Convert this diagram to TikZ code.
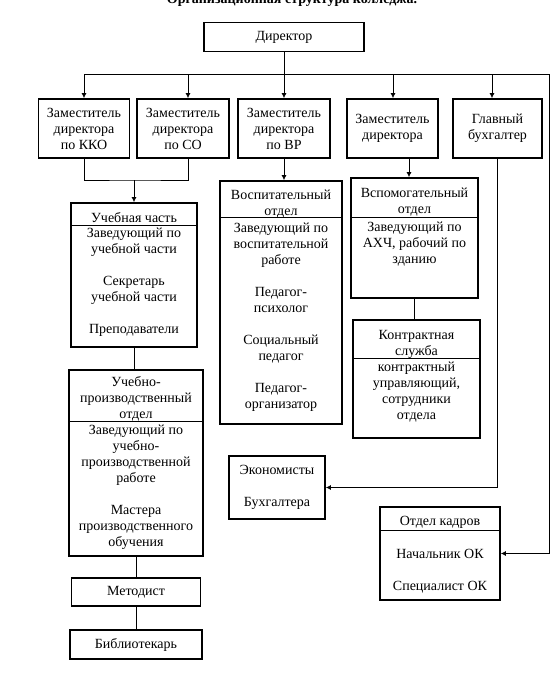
\documentclass[tikz,border=0pt]{standalone}
\usepackage{fontspec}
\setmainfont{Liberation Serif}
\usepackage{tikz}
\usetikzlibrary{positioning, arrows.meta}
\newcommand{\orgfont}{\fontsize{14}{16}\selectfont}
\tikzset{
  unit/.style={
    draw, rectangle, line width=1.7pt,
    inner sep=0pt, align=center, font=\orgfont
  },
  txt/.style={inner sep=0pt, align=center, font=\orgfont},
  ttl/.style={inner sep=0pt, font=\orgfont\bfseries},
  sepl/.style={line width=0.8pt},
  lnk/.style={line width=0.8pt},
  arr/.style={-{Latex[length=5pt, width=5pt]}, line width=0.8pt},
}
\begin{document}
\begin{tikzpicture}[x=1pt, y=-1pt]
        \useasboundingbox (0,0) rectangle (560,681);
        \node[ttl, anchor=base] (title) at (292,3) {Организационная структура колледжа.};
        \node[unit, minimum width=160pt, minimum height=29pt] (dir) at (284,37) {Директор};
        % first row
        \node[unit, minimum width=91pt, minimum height=59pt] (zkko) at (84,128.5) {Заместитель\\директора\\по ККО};
        \node[unit, minimum width=92pt, minimum height=59pt] (zkso) at (183,128.5) {Заместитель\\директора\\по СО};
        \node[unit, minimum width=92pt, minimum height=59pt] (zvr) at (284,128.5) {Заместитель\\директора\\по ВР};
        \node[unit, minimum width=91pt, minimum height=59pt] (zdir) at (392.5,128.5) {Заместитель\\директора};
        \node[unit, minimum width=89pt, minimum height=59pt] (glb) at (497.5,128.5) {Главный\\бухгалтер};
        % left column
        \node[unit, minimum width=126pt, minimum height=144pt] (uch) at (134,275) {};
        \node[txt, anchor=north] (uch-h) at (134,211) {\strut Учебная часть};
        \draw[sepl] ([yshift=-23pt]uch.north west) -- ([yshift=-23pt]uch.north east);
        \node[txt, anchor=north] (uch-b) at (134,226) {\strut Заведующий по\\учебной части\\[16pt]Секретарь\\учебной части\\[16pt]Преподаватели};
        \node[unit, minimum width=134pt, minimum height=186pt] (upo) at (136,463) {};
        \node[txt, anchor=north] (upo-h) at (136,375) {\strut Учебно-\\производственный\\отдел};
        \draw[sepl] ([yshift=-52pt]upo.north west) -- ([yshift=-52pt]upo.north east);
        \node[txt, anchor=north] (upo-b) at (136,423) {\strut Заведующий по\\учебно-\\производственной\\работе\\[16pt]Мастера\\производственного\\обучения};
        \node[unit, minimum width=129pt, minimum height=28pt] (metod) at (136,592) {Методист};
        \node[unit, minimum width=132pt, minimum height=29pt] (bibl) at (136,644.5) {Библиотекарь};
        % middle column
        \node[unit, minimum width=122pt, minimum height=243pt] (vosp) at (281,302.5) {};
        \node[txt, anchor=north] (vosp-h) at (281,188) {\strut Воспитательный\\отдел};
        \draw[sepl] ([yshift=-37pt]vosp.north west) -- ([yshift=-37pt]vosp.north east);
        \node[txt, anchor=north] (vosp-b) at (281,221) {\strut Заведующий по\\воспитательной\\работе\\[16pt]Педагог-\\психолог\\[16pt]Социальный\\педагог\\[16pt]Педагог-\\организатор};
        \node[unit, minimum width=96pt, minimum height=63pt] (econ) at (277,487.5) {Экономисты\\[16pt]Бухгалтера};
        % right column
        \node[unit, minimum width=127pt, minimum height=120pt] (vspom) at (414.5,238) {};
        \node[txt, anchor=north] (vspom-h) at (414.5,186) {\strut Вспомогательный\\отдел};
        \draw[sepl] ([yshift=-40pt]vspom.north west) -- ([yshift=-40pt]vspom.north east);
        \node[txt, anchor=north] (vspom-b) at (414.5,220) {\strut Заведующий по\\АХЧ, рабочий по\\зданию};
        \node[unit, minimum width=127pt, minimum height=118pt] (kontr) at (416.5,379) {};
        \node[txt, anchor=north] (kontr-h) at (416.5,328) {\strut Контрактная\\служба};
        \draw[sepl] ([yshift=-39pt]kontr.north west) -- ([yshift=-39pt]kontr.north east);
        \node[txt, anchor=north] (kontr-b) at (416.5,360) {\strut контрактный\\управляющий,\\сотрудники\\отдела};
        \node[unit, minimum width=120pt, minimum height=93pt] (kadr) at (440,553.5) {};
        \node[txt, anchor=north] (kadr-h) at (440,514) {\strut Отдел кадров};
        \draw[sepl] ([yshift=-24pt]kadr.north west) -- ([yshift=-24pt]kadr.north east);
        \node[txt, anchor=north] (kadr-b) at (440,547) {\strut Начальник ОК\\[16pt]Специалист ОК};
        % connectors
        \coordinate (busL) at (84,74);
        \coordinate (busR) at (549,74);
        \coordinate (jn) at (134,180);
        \draw[lnk] (dir.south) -- (dir.south |- busL);
        \draw[lnk] (busL) -- (busR);
        \foreach \nd/\cx in {zkko/84, zkso/188, zvr/284, zdir/393, glb/492}{
          \coordinate (top) at (\cx,74);
          \draw[arr] (top) -- (top |- \nd.north);
        }
        \draw[arr] (busR) |- (kadr.east);
        \draw[arr] (glb.south) |- (econ.east);
        \draw[lnk] (zkko.south) |- (jn) -| ([xshift=5pt]zkso.south);
        \draw[arr] (jn) -- (jn |- uch.north);
        \draw[arr] (zvr.south) -- (zvr.south |- vosp.north);
        \draw[arr] ([xshift=16.5pt]zdir.south) -- ([xshift=16.5pt]zdir.south |- vspom.north);
        \draw[lnk] (vspom.south) -- (vspom.south |- kontr.north);
        \draw[lnk] (uch.south) -- (uch.south |- upo.north);
        \draw[lnk] (upo.south) -- (upo.south |- metod.north);
        \draw[lnk] (metod.south) -- (metod.south |- bibl.north);
      \end{tikzpicture}
\end{document}
